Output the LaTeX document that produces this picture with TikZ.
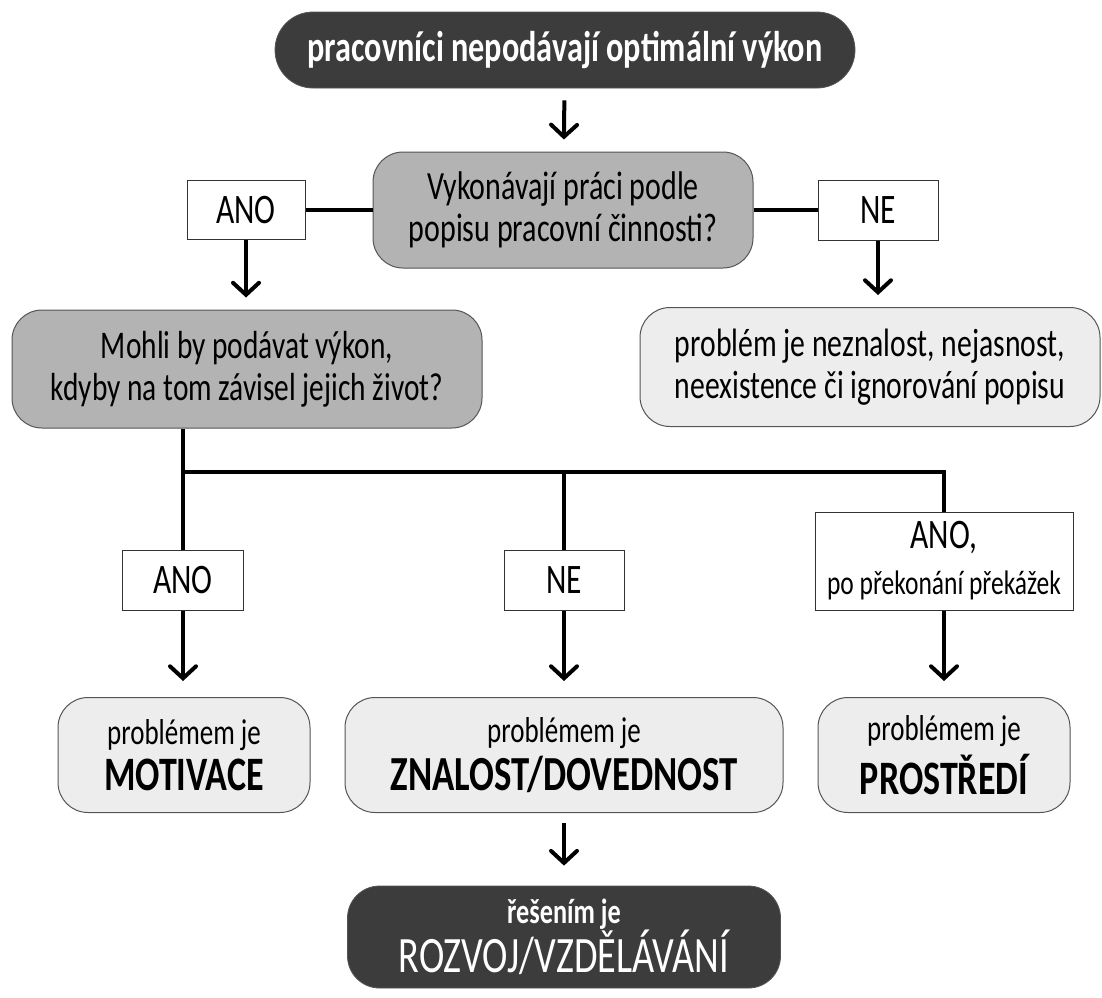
\documentclass[tikz,border=0pt]{standalone}
\usepackage{fontspec}
\setmainfont{Carlito}[FakeStretch=0.75]
\usetikzlibrary{arrows.meta}
\definecolor{darkbox}{HTML}{3C3C3C}
\definecolor{greybox}{HTML}{B3B3B3}
\definecolor{lightbox}{HTML}{EDEDED}
\definecolor{edge}{HTML}{555555}
\begin{document}
\begin{tikzpicture}[x=0.5pt, y=-0.5pt,
        dark/.style={draw=edge, fill=darkbox, text=white, rounded corners=19pt, align=center, inner sep=0pt},
        question/.style={draw=edge, line width=0.5pt, fill=greybox, rounded corners=15pt, align=center, inner sep=0pt, font=\fontsize{20}{21}\selectfont},
        answer/.style={draw=edge, line width=0.5pt, fill=lightbox, rounded corners=15pt, align=center, inner sep=0pt},
        label/.style={draw=black!80, line width=0.5pt, fill=white, align=center, inner sep=0pt, font=\fontsize{21}{22}\selectfont},
        link/.style={line width=2pt},
        arrow/.style={line width=2pt, -{Straight Barb[length=6pt, width=13pt, line cap=round]}}]
    \useasboundingbox (0, 0) rectangle (1102, 997);
    \node [dark, minimum width=290pt, minimum height=38pt, font=\bfseries\fontsize{21.5}{22}\selectfont] (start) at (565, 50) {pracovníci nepodávají optimální výkon};
    \node [question, minimum width=190pt, minimum height=58pt] (doing) at (563, 210) {Vykonávají práci podle\\popisu pracovní činnosti?};
    \node [label, minimum width=59pt, minimum height=29.5pt] (yesA) at (246, 210) {ANO};
    \node [label, minimum width=60pt, minimum height=30pt] (noA) at (878, 210) {NE};
    \node [question, minimum width=235pt, minimum height=59pt, font=\fontsize{19.6}{21}\selectfont] (could) at (247, 369) {Mohli by podávat výkon,\\kdyby na tom závisel jejich život?};
    \node [answer, minimum width=230pt, minimum height=59.5pt, font=\fontsize{19.8}{21}\selectfont] (unclear) at (870, 367) {problém je neznalost, nejasnost,\\neexistence či ignorování popisu};
    \coordinate (split) at (183, 472);
    \node [label, minimum width=60.5pt, minimum height=30pt] (yesB) at (183, 580) {ANO};
    \node [label, minimum width=60pt, minimum height=30pt] (noB) at (564, 580) {NE};
    \node [label, minimum width=129pt, minimum height=49pt] (yesC) at (944, 561) {ANO,\\[1pt]{\fontsize{17}{18}\selectfont po překonání překážek}};
    \node [answer, minimum width=126pt, minimum height=57.5pt] (motiv) at (184, 755) {{\fontsize{18}{18}\selectfont problémem je}\\[3pt]{\bfseries\fontsize{24}{24}\selectfont MOTIVACE}};
    \node [answer, minimum width=219pt, minimum height=57.5pt] (skill) at (564, 755) {{\fontsize{18}{18}\selectfont problémem je}\\[3pt]{\bfseries\fontsize{24.5}{24}\selectfont ZNALOST/DOVEDNOST}};
    \node [answer, minimum width=126pt, minimum height=57.5pt] (place) at (944, 755) {{\fontsize{18}{18}\selectfont problémem je}\\[3pt]{\bfseries\fontsize{24}{24}\selectfont PROSTŘEDÍ}};
    \node [dark, minimum width=216.5pt, minimum height=51pt, rounded corners=16pt] (solve) at (564, 937) {{\bfseries\fontsize{17.5}{17}\selectfont řešením je}\\[-1pt]{\fontsize{25.5}{25}\selectfont ROZVOJ/VZDĚLÁVÁNÍ}};
    \draw [arrow, shorten <=6pt, shorten >=6pt] (start) -- (doing);
    \draw [link] (yesA) -- (doing);
    \draw [link] (doing) -- (noA);
    \draw [arrow, shorten >=6pt] (yesA) -- (yesA |- could.north);
    \draw [arrow, shorten >=6pt] (noA) -- (noA |- unclear.north);
    \draw [link] (could.south -| split) -- (yesB);
    \draw [link] (split) -| (yesC);
    \draw [link] (split -| noB) -- (noB);
    \draw [arrow, shorten >=8pt] (yesB) -- (yesB |- motiv.north);
    \draw [arrow, shorten >=8pt] (noB) -- (noB |- skill.north);
    \draw [arrow, shorten >=8pt] (yesC) -- (yesC |- place.north);
    \draw [arrow, shorten <=5pt, shorten >=10pt] (skill) -- (solve);
\end{tikzpicture}
\end{document}
